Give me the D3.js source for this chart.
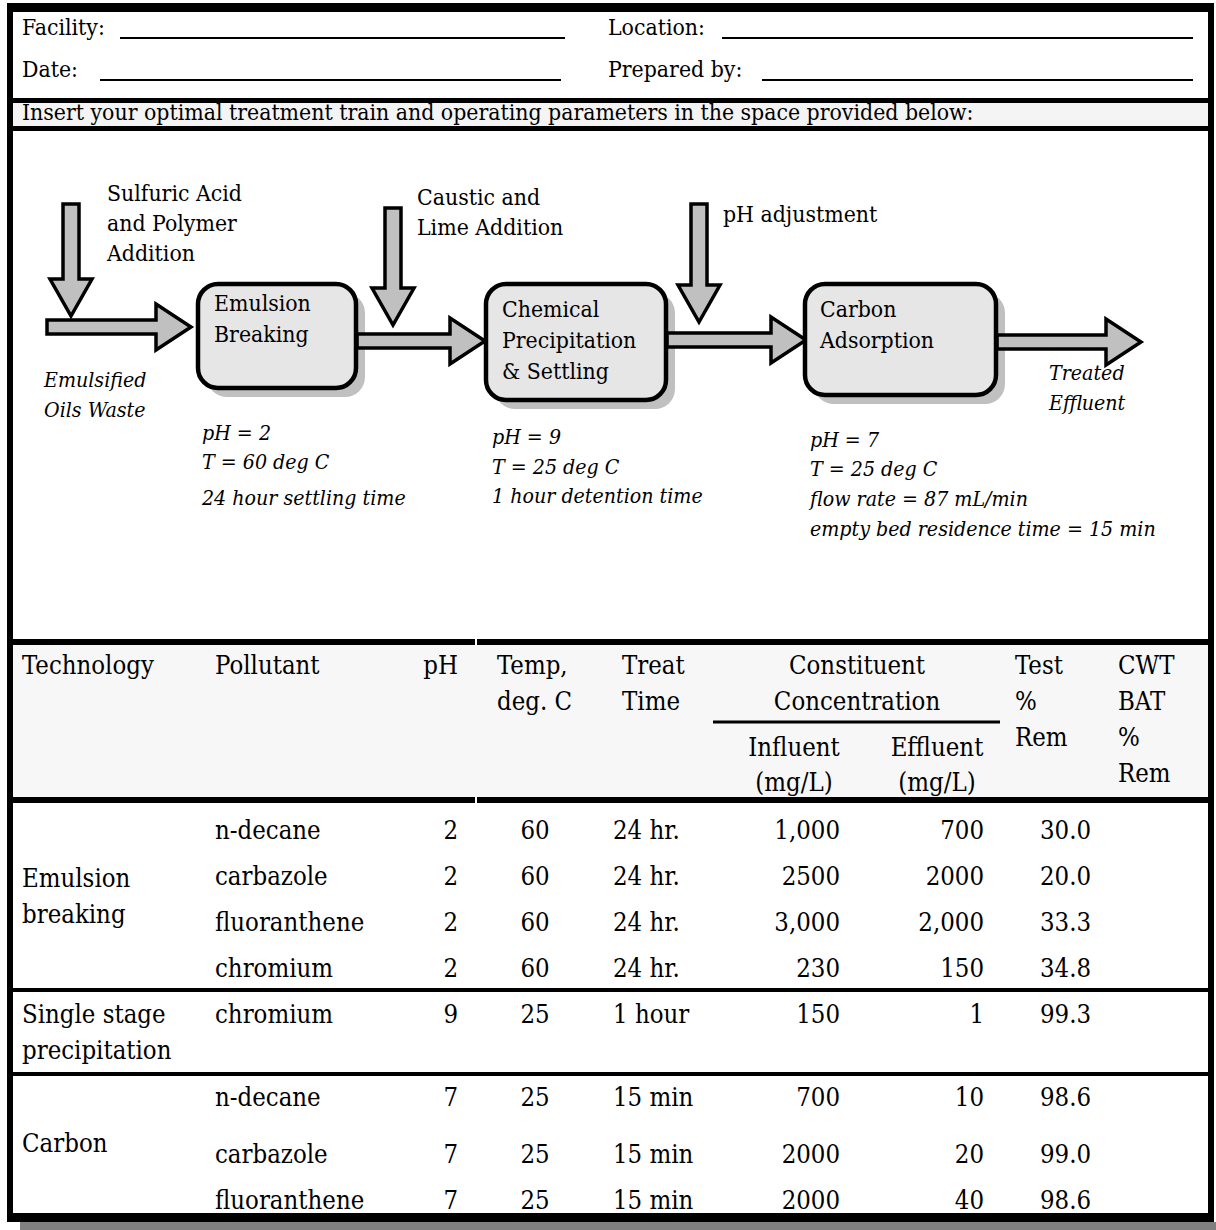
<!DOCTYPE html>
<html lang="en">
<head>
<meta charset="UTF-8">
<title>Treatment train worksheet</title>
<script src="https://d3js.org/d3.v7.min.js"></script>
<style>
  body { margin: 0; background: #fff; }
  svg { display: block; }
  svg text { font-family: "DejaVu Serif", serif; font-stretch: condensed; fill: #000; }
  .top { font-size: 22.8px; }
  .flow { font-size: 22.8px; }
  .note { font-size: 21.2px; font-style: italic; }
  .tbl { font-size: 25.5px; }
</style>
</head>
<body>
<svg width="1216" height="1230"></svg>
<script>
// ---- form header ----
const fieldLabels = [["Facility:", "Location:"], ["Date:", "Prepared by:"]];
const instruction = "Insert your optimal treatment train and operating parameters in the space provided below:";

// ---- flow diagram ----
const stepNames = [["Emulsion", "Breaking"], ["Chemical", "Precipitation", "& Settling"], ["Carbon", "Adsorption"]];
const additions = [["Sulfuric Acid", "and Polymer", "Addition"], ["Caustic and", "Lime Addition"], ["pH adjustment"]];
const stepNotes = [
  ["pH = 2", "T = 60 deg C", "24 hour settling time"],
  ["pH = 9", "T = 25 deg C", "1 hour detention time"],
  ["pH = 7", "T = 25 deg C", "flow rate = 87 mL/min", "empty bed residence time = 15 min"]
];
const feedLabel = ["Emulsified", "Oils Waste"];
const outLabel = ["Treated", "Effluent"];

// ---- results table ----
const headerText = [["Technology"], ["Pollutant"], ["pH"], ["Temp,", "deg. C"], ["Treat", "Time"],
  ["Constituent", "Concentration"], ["Test", "%", "Rem"], ["CWT", "BAT", "%", "Rem"]];
const subHeaderText = [["Influent", "(mg/L)"], ["Effluent", "(mg/L)"]];
const technologies = [["Emulsion", "breaking"], ["Single stage", "precipitation"], ["Carbon"]];
const groupSizes = [4, 1, 3];
const pollutants = ["n-decane", "carbazole", "fluoranthene", "chromium", "chromium", "n-decane", "carbazole", "fluoranthene"];
const phValues = [2, 2, 2, 2, 9, 7, 7, 7];
const temps = [60, 60, 60, 60, 25, 25, 25, 25];
const treatTimes = ["24 hr.", "24 hr.", "24 hr.", "24 hr.", "1 hour", "15 min", "15 min", "15 min"];
const influent = ["1,000", "2500", "3,000", "230", "150", "700", "2000", "2000"];
const effluent = ["700", "2000", "2,000", "150", "1", "10", "20", "40"];
const testRem = ["30.0", "20.0", "33.3", "34.8", "99.3", "98.6", "99.0", "98.6"];

const svg = d3.select("svg");
const W = 1216;
const L = 8, R = 1213;

function lines(g, arr, x, y0, step, cls, anchor) {
  g.selectAll(null).data(arr).enter().append("text")
    .attr("class", cls)
    .attr("x", x)
    .attr("y", (d, i) => y0 + i * step)
    .attr("dy", "0.35em")
    .attr("text-anchor", anchor || "start")
    .text(d => d);
}

// backgrounds
svg.append("rect").attr("x", 20).attr("y", 1222).attr("width", W - 20).attr("height", 8).attr("fill", "#808080");
svg.append("rect").attr("x", L).attr("y", 103).attr("width", R - L).attr("height", 23).attr("fill", "#f4f4f4");
svg.append("rect").attr("x", L).attr("y", 645).attr("width", R - L).attr("height", 152).attr("fill", "#f7f7f7");

// ---- header fields ----
const hdr = svg.append("g");
const fieldY = d3.scaleLinear().domain([0, 1]).range([27, 69]);
const fieldCols = [{ x: 22, lines: [[120, 565], [100, 561]] }, { x: 608, lines: [[722, 1193], [762, 1193]] }];
fieldLabels.forEach((row, r) => {
  row.forEach((lab, c) => {
    hdr.append("text").attr("class", "top").attr("x", fieldCols[c].x).attr("y", fieldY(r)).attr("dy", "0.35em").text(lab);
    const ln = fieldCols[c].lines[r];
    hdr.append("line").attr("x1", ln[0]).attr("x2", ln[1])
      .attr("y1", fieldY(r) + 11).attr("y2", fieldY(r) + 11)
      .attr("stroke", "#000").attr("stroke-width", 2);
  });
});
hdr.append("text").attr("class", "top").attr("x", 22).attr("y", 112).attr("dy", "0.35em").text(instruction);

// ---- flow diagram ----
const flow = svg.append("g");
const boxes = [
  { x: 198, y: 284, w: 158, h: 104, tx: 214, ty: 303 },
  { x: 486, y: 284, w: 180, h: 116, tx: 502, ty: 309 },
  { x: 805, y: 284, w: 191, h: 111, tx: 820, ty: 309 }
];
const hArrows = [
  { x0: 47, x1: 191, y: 327 },
  { x0: 357, x1: 485, y: 341 },
  { x0: 667, x1: 806, y: 340 },
  { x0: 997, x1: 1141, y: 342 }
];
const vArrows = [
  { x: 71, y0: 204, y1: 316 },
  { x: 393, y0: 208, y1: 325 },
  { x: 699, y0: 204, y1: 322 }
];

function hArrowPath(a) {
  const s = 7, h = 23, hl = 35, xb = a.x1 - hl;
  return d3.line()([[a.x0, a.y - s], [xb, a.y - s], [xb, a.y - h], [a.x1, a.y], [xb, a.y + h], [xb, a.y + s], [a.x0, a.y + s]]) + "Z";
}
function vArrowPath(a) {
  const s = 8, h = 21, hl = 37, yb = a.y1 - hl;
  return d3.line()([[a.x - s, a.y0], [a.x + s, a.y0], [a.x + s, yb], [a.x + h, yb], [a.x, a.y1], [a.x - h, yb], [a.x - s, yb]]) + "Z";
}

// box shadows then boxes
flow.selectAll(".shadow").data(boxes).enter().append("rect")
  .attr("x", d => d.x + 9).attr("y", d => d.y + 9).attr("width", d => d.w).attr("height", d => d.h)
  .attr("rx", 20).attr("fill", "#c0c0c0");
flow.selectAll(".harrow").data(hArrows).enter().append("path")
  .attr("d", hArrowPath).attr("fill", "#c0c0c0").attr("stroke", "#000").attr("stroke-width", 3.5).attr("stroke-linejoin", "miter");
flow.selectAll(".box").data(boxes).enter().append("rect")
  .attr("x", d => d.x).attr("y", d => d.y).attr("width", d => d.w).attr("height", d => d.h)
  .attr("rx", 20).attr("fill", "#e6e6e6").attr("stroke", "#000").attr("stroke-width", 4.5);
flow.selectAll(".varrow").data(vArrows).enter().append("path")
  .attr("d", vArrowPath).attr("fill", "#c0c0c0").attr("stroke", "#000").attr("stroke-width", 3.5);

stepNames.forEach((nm, i) => lines(flow, nm, boxes[i].tx, boxes[i].ty, 31, "flow"));
const addPos = [{ x: 107, y: 193 }, { x: 417, y: 197 }, { x: 723, y: 214 }];
additions.forEach((a, i) => lines(flow, a, addPos[i].x, addPos[i].y, 30, "flow"));
const notePos = [{ x: 202, y: 433, step: [29, 36] }, { x: 492, y: 437, step: [30, 29] }, { x: 810, y: 440, step: [29, 30, 30] }];
stepNotes.forEach((n, i) => {
  let y = notePos[i].y;
  n.forEach((t, k) => {
    flow.append("text").attr("class", "note").attr("x", notePos[i].x).attr("y", y).attr("dy", "0.35em").text(t);
    y += notePos[i].step[k] || 0;
  });
});
lines(flow, feedLabel, 44, 380, 30, "note");
lines(flow, outLabel, 1049, 373, 30, "note");

// ---- table ----
const tbl = svg.append("g");
const headY = d3.scaleLinear().domain([0, 1]).range([665, 701]);
const headerPos = [
  { x: 22, a: "start" }, { x: 215, a: "start" }, { x: 458, a: "end" }, { x: 497, a: "start" },
  { x: 622, a: "start" }, { x: 857, a: "middle" }, { x: 1015, a: "start" }, { x: 1118, a: "start" }
];
headerText.forEach((h, i) => lines(tbl, h, headerPos[i].x, headY(0), headY(1) - headY(0), "tbl", headerPos[i].a));
const subPos = [794, 937];
subHeaderText.forEach((h, i) => lines(tbl, h, subPos[i], 747, 35, "tbl", "middle"));
tbl.append("line").attr("x1", 713).attr("x2", 1000).attr("y1", 722).attr("y2", 722).attr("stroke", "#000").attr("stroke-width", 3);

const rowSlot = [0, 1, 2, 3, 4, 5.8, 7.05, 8.05];
const rowY = d3.scaleLinear().domain([0, 1]).range([830, 876]);
const cols = [
  { v: pollutants, x: 215, a: "start" },
  { v: phValues, x: 458, a: "end" },
  { v: temps, x: 535, a: "middle" },
  { v: treatTimes, x: 613, a: "start" },
  { v: influent, x: 840, a: "end" },
  { v: effluent, x: 984, a: "end" },
  { v: testRem, x: 1040, a: "start" }
];
cols.forEach(c => {
  tbl.selectAll(null).data(c.v).enter().append("text")
    .attr("class", "tbl").attr("x", c.x).attr("y", (d, i) => rowY(rowSlot[i])).attr("dy", "0.35em")
    .attr("text-anchor", c.a).text(d => d);
});
const groupEdges = [803, 990, 1074, 1213];
technologies.forEach((t, i) => {
  const mid = (groupEdges[i] + groupEdges[i + 1]) / 2;
  lines(tbl, t, 22, mid - (t.length - 1) * 18, 36, "tbl");
});

// ---- rules and frame ----
const rules = svg.append("g").attr("fill", "#000");
rules.append("rect").attr("x", L).attr("y", 98).attr("width", R - L).attr("height", 5);
rules.append("rect").attr("x", L).attr("y", 126).attr("width", R - L).attr("height", 5);
rules.append("rect").attr("x", L).attr("y", 639).attr("width", R - L).attr("height", 6);
rules.append("rect").attr("x", L).attr("y", 797).attr("width", R - L).attr("height", 6);
rules.append("rect").attr("x", L).attr("y", 988).attr("width", R - L).attr("height", 4);
rules.append("rect").attr("x", L).attr("y", 1072).attr("width", R - L).attr("height", 4);
// outer frame
rules.append("rect").attr("x", L - 1).attr("y", 3).attr("width", R - L + 2).attr("height", 9);
rules.append("rect").attr("x", L - 1).attr("y", 1213).attr("width", R - L + 2).attr("height", 9);
rules.append("rect").attr("x", L - 1).attr("y", 3).attr("width", 6).attr("height", 1219);
rules.append("rect").attr("x", R - 5).attr("y", 3).attr("width", 6).attr("height", 1219);
// small white breaks in the header rules
svg.selectAll(".gap").data([639, 797]).enter().append("rect")
  .attr("x", 475).attr("y", d => d).attr("width", 2).attr("height", 6).attr("fill", "#fff");
</script>
</body>
</html>
